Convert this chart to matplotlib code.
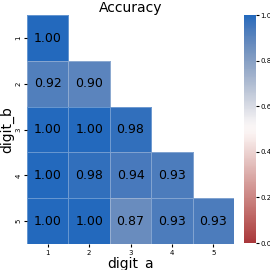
import matplotlib
matplotlib.use("Agg")
import matplotlib.pyplot as plt
import seaborn as sns
import numpy as np

labels = [1, 2, 3, 4, 5]
row1 = [1.00, np.nan, np.nan, np.nan, np.nan]
row2 = [0.92, 0.90, np.nan, np.nan, np.nan]
row3 = [1.00, 1.00, 0.98, np.nan, np.nan]
row4 = [1.00, 0.98, 0.94, 0.93, np.nan]
row5 = [1.00, 1.00, 0.87, 0.93, 0.93]

acc = np.array([row1, row2, row3, row4, row5])
mask = np.isnan(acc)

fig = plt.figure(figsize=(2.7, 2.7), dpi=100)
ax = fig.add_axes([0.1, 0.096, 0.767, 0.848])
cax = fig.add_axes([0.904, 0.1, 0.044, 0.844])

# lower-triangle accuracy heatmap
sns.heatmap(acc, mask=mask, cmap="vlag_r", vmin=0, vmax=1, annot=True, fmt=".2f",
            annot_kws={"fontsize": 9, "color": "black"}, linewidths=0.5, linecolor="white",
            xticklabels=labels, yticklabels=labels, ax=ax, cbar_ax=cax)
# faint cell separators, none on the hidden upper triangle
edges = [(1, 1, 1, 0) if m else (1, 1, 1, 0.3) for m in mask.ravel()]
ax.collections[0].set_edgecolor(edges)

ax.set_title("Accuracy", fontsize=10, pad=2)
ax.set_xlabel("digit_a", fontsize=10, labelpad=1)
ax.set_ylabel("digit_b", fontsize=10, labelpad=1)
ax.tick_params(labelsize=5, length=2, pad=2)
plt.setp(ax.get_yticklabels(), rotation=90, va="center")
cax.tick_params(labelsize=5, length=2, pad=1)

fig.savefig("out.png", dpi=100)
